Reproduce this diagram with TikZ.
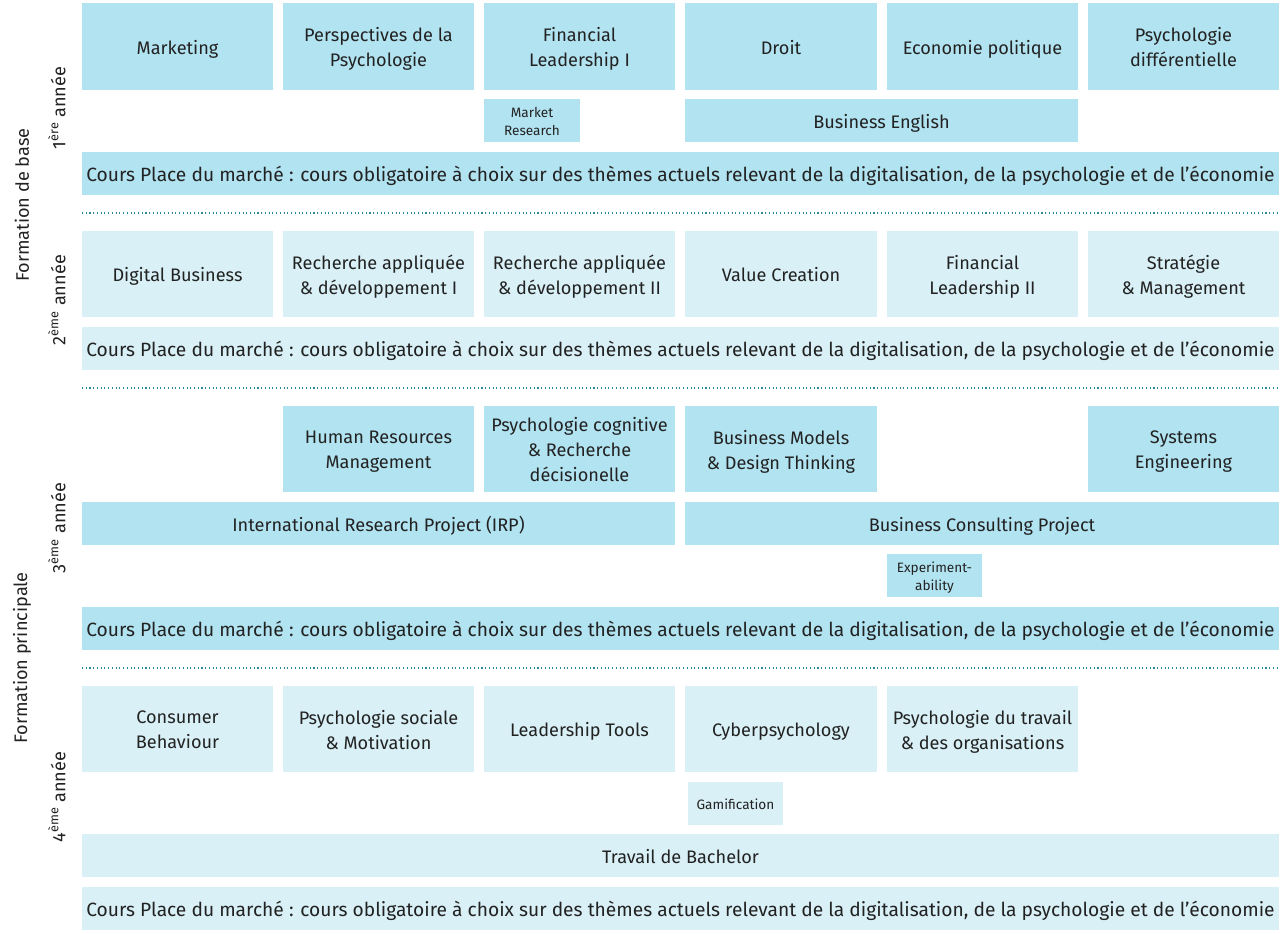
\documentclass[tikz,border=0pt]{standalone}
\usepackage{fontspec}
\setmainfont{Fira Sans}
\definecolor{dk}{HTML}{B2E3F1}
\definecolor{lt}{HTML}{D8F0F6}
\definecolor{dotc}{HTML}{2B8A9A}
\definecolor{txt}{HTML}{222222}
% #1 fill style, #2..#5 corners (px), #6 name, #7 text, #8 text style
\newcommand\mybox[8]{%
  \path[#1] (#2,#3) rectangle (#4,#5);
  \node[#8] (#6) at ({(#2+#4)/2},{(#3+#5)/2+2.5}) {\vphantom{lg}#7\vphantom{lg}};}
\begin{document}
\begin{tikzpicture}[x=0.75pt,y=-0.75pt,
  dk/.style={fill=dk},
  lt/.style={fill=lt},
  tx/.style={inner sep=0pt, outer sep=0pt, text=txt, align=center},
  big/.style={tx, font=\fontsize{13.6}{18.75}\selectfont},
  sm/.style={tx, font=\fontsize{10.2}{13.5}\selectfont},
  wide/.style={tx, font=\fontsize{14.4}{16}\selectfont},
  sep/.style={draw=dotc, line width=0.8pt, dotted},
  side/.style={rotate=90, text=txt, inner sep=0pt, font=\fontsize{13.6}{15}\selectfont}]
\useasboundingbox[fill=white] (0,0) rectangle (1280,933);
% Year 1
\mybox{dk}{82}{3}{273}{90}{a1}{Marketing}{big}
\mybox{dk}{283}{3}{474}{90}{a2}{Perspectives de la\\Psychologie}{big}
\mybox{dk}{484}{3}{675}{90}{a3}{Financial\\Leadership I}{big}
\mybox{dk}{685}{3}{877}{90}{a4}{Droit}{big}
\mybox{dk}{887}{3}{1078}{90}{a5}{Economie politique}{big}
\mybox{dk}{1088}{3}{1279}{90}{a6}{Psychologie\\différentielle}{big}
\mybox{dk}{484}{99}{580}{142}{a7}{Market\\Research}{sm}
\mybox{dk}{685}{99}{1078}{142}{a8}{Business English}{big}
\mybox{dk}{82}{152}{1279}{195}{a9}{Cours Place du marché : cours obligatoire à choix sur des thèmes actuels relevant de la digitalisation, de la psychologie et de l’économie}{wide}
\coordinate (s1a) at (82,213); \coordinate (s1b) at (1279,213);
\draw[sep] (s1a) -- (s1b);
% Year 2
\mybox{lt}{82}{231}{273}{317}{b1}{Digital Business}{big}
\mybox{lt}{283}{231}{474}{317}{b2}{Recherche appliquée\\\& développement I}{big}
\mybox{lt}{484}{231}{675}{317}{b3}{Recherche appliquée\\\& développement II}{big}
\mybox{lt}{685}{231}{877}{317}{b4}{Value Creation}{big}
\mybox{lt}{887}{231}{1078}{317}{b5}{Financial\\Leadership II}{big}
\mybox{lt}{1088}{231}{1279}{317}{b6}{Stratégie\\\& Management}{big}
\mybox{lt}{82}{327}{1279}{370}{b7}{Cours Place du marché : cours obligatoire à choix sur des thèmes actuels relevant de la digitalisation, de la psychologie et de l’économie}{wide}
\coordinate (s2a) at (82,388); \coordinate (s2b) at (1279,388);
\draw[sep] (s2a) -- (s2b);
% Year 3
\mybox{dk}{283}{406}{474}{492}{c2}{Human Resources\\Management}{big}
\path[dk] (484,406) rectangle (675,492);
\node[big] (c3) at (579.5,449.5) {Psychologie cognitive\\\& Recherche\\décisionelle};
\mybox{dk}{685}{406}{877}{492}{c4}{Business Models\\\& Design Thinking}{big}
\mybox{dk}{1088}{406}{1279}{492}{c6}{Systems\\Engineering}{big}
\mybox{dk}{82}{502}{675}{545}{c7}{International Research Project (IRP)}{big}
\mybox{dk}{685}{502}{1279}{545}{c8}{Business Consulting Project}{big}
\mybox{dk}{887}{554}{982}{597}{c9}{Experiment-\\ability}{sm}
\mybox{dk}{82}{607}{1279}{650}{c10}{Cours Place du marché : cours obligatoire à choix sur des thèmes actuels relevant de la digitalisation, de la psychologie et de l’économie}{wide}
\coordinate (s3a) at (82,668); \coordinate (s3b) at (1279,668);
\draw[sep] (s3a) -- (s3b);
% Year 4
\mybox{lt}{82}{686}{273}{772}{d1}{Consumer\\Behaviour}{big}
\mybox{lt}{283}{686}{474}{772}{d2}{Psychologie sociale\\\& Motivation}{big}
\mybox{lt}{484}{686}{675}{772}{d3}{Leadership Tools}{big}
\mybox{lt}{685}{686}{877}{772}{d4}{Cyberpsychology}{big}
\mybox{lt}{887}{686}{1078}{772}{d5}{Psychologie du travail\\\& des organisations}{big}
\mybox{lt}{688}{782}{783}{825}{d6}{Gamification}{sm}
\mybox{lt}{82}{834}{1279}{877}{d7}{Travail de Bachelor}{big}
\mybox{lt}{82}{887}{1279}{930}{d8}{Cours Place du marché : cours obligatoire à choix sur des thèmes actuels relevant de la digitalisation, de la psychologie et de l’économie}{wide}
% Side labels
\node[side] (fb) at (22,205) {Formation de base};
\node[side] (fp) at (22,658) {Formation principale};
\node[side] (y1) at (57,108) {1\textsuperscript{ère} année};
\node[side] (y2) at (57,300) {2\textsuperscript{ème} année};
\node[side] (y3) at (57,528) {3\textsuperscript{ème} année};
\node[side] (y4) at (57,797) {4\textsuperscript{ème} année};
\end{tikzpicture}
\end{document}
